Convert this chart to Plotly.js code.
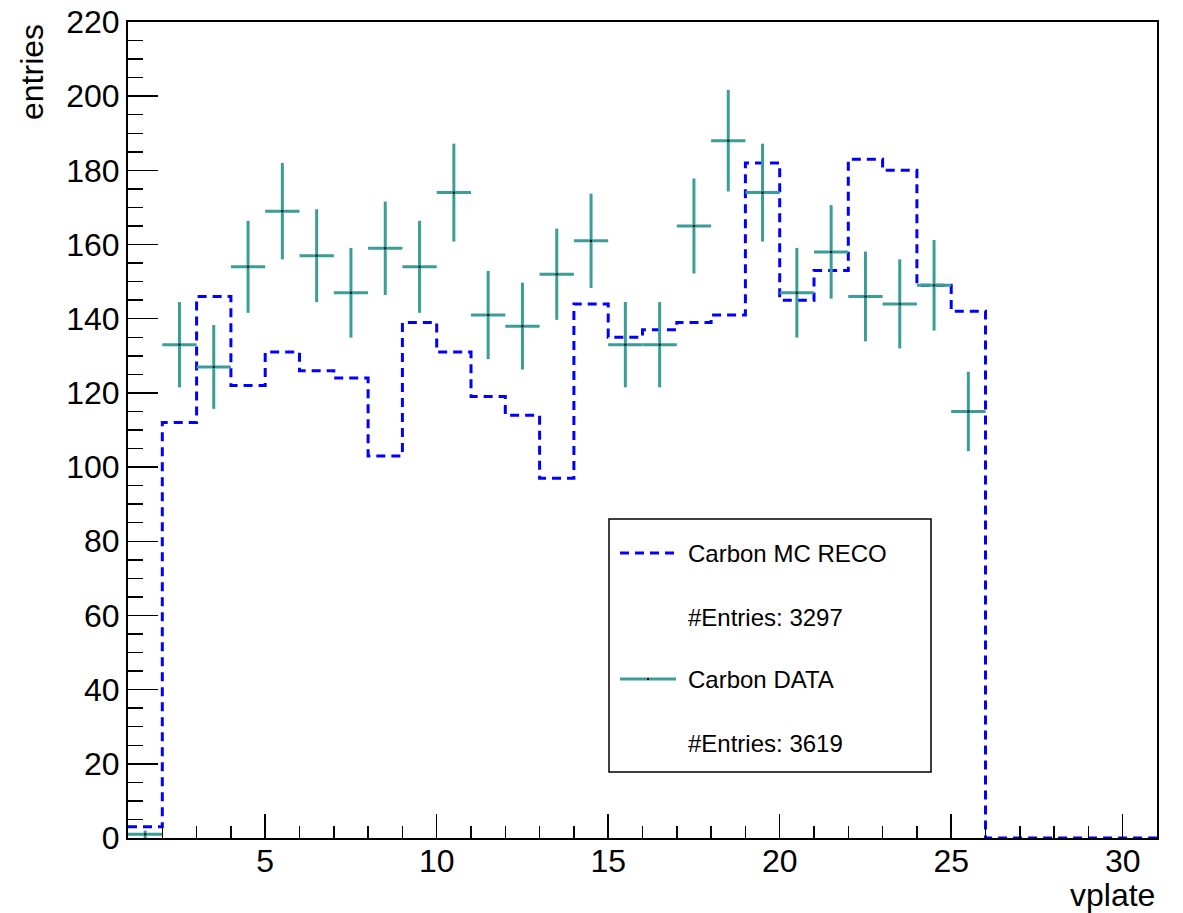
<!DOCTYPE html>
<html>
<head>
<meta charset="utf-8">
<script src="https://cdn.plot.ly/plotly-3.0.1.min.js"></script>
<style>html,body{margin:0;padding:0;background:#fff;}</style>
</head>
<body>
<div id="chart" style="width:1183px;height:913px;"></div>
<script>
// Bin edges (vplate), width 1 from 1 to 31
const binEdges = [1,2,3,4,5,6,7,8,9,10,11,12,13,14,15,16,17,18,19,20,21,22,23,24,25,26,27,28,29,30,31];
// Carbon MC RECO per bin (30 bins)
const mcCounts = [3,112,146,122,131,126,124,103,139,131,119,114,97,144,135,137,139,141,182,145,153,183,180,149,142,0,0,0,0,0];
// Carbon DATA: bin centres, counts and errors
const dataX = [1.5,2.5,3.5,4.5,5.5,6.5,7.5,8.5,9.5,10.5,11.5,12.5,13.5,14.5,15.5,16.5,17.5,18.5,19.5,20.5,21.5,22.5,23.5,24.5,25.5];
const dataY = [1,133,127,154,169,157,147,159,154,174,141,138,152,161,133,133,165,188,174,147,158,146,144,149,115];
const dataErr = [1,11.5,11.3,12.4,13,12.5,12.1,12.6,12.4,13.2,11.9,11.7,12.3,12.7,11.5,11.5,12.8,13.7,13.2,12.1,12.6,12.1,12,12.2,10.7];
const dataHalfWidth = [0.5,0.5,0.5,0.5,0.5,0.5,0.5,0.5,0.5,0.5,0.5,0.5,0.5,0.5,0.5,0.5,0.5,0.5,0.5,0.5,0.5,0.5,0.5,0.5,0.5];
const legendLabels = ["Carbon MC RECO", "#Entries: 3297", "Carbon DATA", "#Entries: 3619"];

const BLUE = "#0000ff";
const TEAL = "#3a9d98";
const FONT = "Liberation Sans, Arial, Helvetica, sans-serif";

const mcY = mcCounts.concat([mcCounts[mcCounts.length-1]]);

const traces = [
  {
    x: binEdges, y: mcY, type: "scatter", mode: "lines",
    line: {shape: "hv", color: BLUE, width: 3, dash: "9px,6px"},
    showlegend: false, hoverinfo: "skip"
  },
  {
    x: dataX, y: dataY, type: "scatter", mode: "markers",
    marker: {symbol: "square", size: 2, color: "#000"},
    error_y: {type: "data", array: dataErr, visible: true, color: TEAL, thickness: 3, width: 0},
    error_x: {type: "data", array: dataHalfWidth, visible: true, color: TEAL, thickness: 3, width: 0},
    showlegend: false
  }
];

function px(x){ return (x-128)/1029; }
function py(y){ return (838-y)/816; }

const shapes = [
  {type:"rect", xref:"paper", yref:"paper", x0:px(609), x1:px(931), y0:py(772), y1:py(519),
   line:{color:"#000", width:1.5}, fillcolor:"rgba(255,255,255,1)", layer:"above"},
  {type:"line", xref:"paper", yref:"paper", x0:px(620), x1:px(676), y0:py(553), y1:py(553),
   line:{color:BLUE, width:3, dash:"9px,6px"}, layer:"above"},
  {type:"line", xref:"paper", yref:"paper", x0:px(620), x1:px(676), y0:py(679), y1:py(679),
   line:{color:TEAL, width:3}, layer:"above"},
  {type:"rect", xref:"paper", yref:"paper", x0:px(647), x1:px(649), y0:py(680), y1:py(678),
   line:{width:0}, fillcolor:"#000", layer:"above"}
];

const legY = [553, 617, 679, 743];
const annotations = legendLabels.map((t,i)=>({
  text: t, xref:"paper", yref:"paper", x: px(686), y: py(legY[i]),
  xanchor:"left", yanchor:"middle", showarrow:false,
  font:{family:FONT, size:24, color:"#000"}
}));
annotations.push({text:"vplate", xref:"paper", yref:"paper", x:1, y:py(895),
  xanchor:"right", yanchor:"middle", showarrow:false, font:{family:FONT, size:32, color:"#000"}});
annotations.push({text:"entries", xref:"paper", yref:"paper", x:px(32), y:1.0,
  xanchor:"center", yanchor:"top", textangle:-90, showarrow:false, font:{family:FONT, size:32, color:"#000"}});

const layout = {
  width: 1183, height: 913,
  margin: {l:128, r:26, t:22, b:75},
  paper_bgcolor: "#fff", plot_bgcolor: "#fff",
  showlegend: false,
  font: {family: FONT, size: 32, color: "#000"},
  xaxis: {
    range: [1, 31], tick0: 0, dtick: 5, ticks: "inside", ticklen: 24, tickwidth: 1.5, tickcolor: "#000",
    minor: {dtick: 1, tick0: 0, ticks: "inside", ticklen: 12, tickwidth: 1.5, tickcolor: "#000", showgrid: false},
    showgrid: false, zeroline: false, showline: true, linecolor: "#000", linewidth: 2, mirror: true,
    ticklabelstandoff: -6,
    tickfont: {family: FONT, size: 32, color: "#000"}
  },
  yaxis: {
    range: [0, 220], tick0: 0, dtick: 20, ticks: "inside", ticklen: 30, tickwidth: 1.5, tickcolor: "#000",
    minor: {dtick: 5, tick0: 0, ticks: "inside", ticklen: 15, tickwidth: 1.5, tickcolor: "#000", showgrid: false},
    showgrid: false, zeroline: false, showline: true, linecolor: "#000", linewidth: 2, mirror: true,
    tickfont: {family: FONT, size: 32, color: "#000"}
  },
  shapes: shapes,
  annotations: annotations
};

Plotly.newPlot("chart", traces, layout, {displayModeBar: false, staticPlot: true});
</script>
</body>
</html>
